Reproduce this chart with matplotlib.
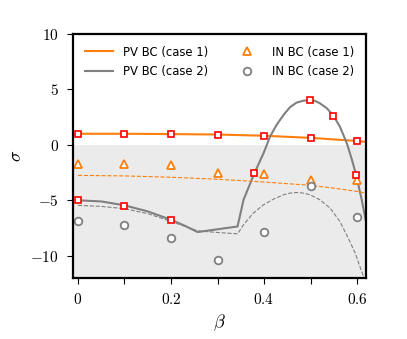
import numpy as np
import matplotlib
matplotlib.use('Agg')
import matplotlib.pyplot as plt

plt.rcParams['mathtext.fontset'] = 'cm'

# PV BC (case 1) - orange solid / dashed
pv1_x = [0.0, 0.1, 0.2, 0.3, 0.4, 0.5, 0.6, 0.62]
pv1_y = [1.0, 1.0, 0.97, 0.93, 0.82, 0.63, 0.35, 0.27]
pv1d_x = [0.0, 0.1, 0.2, 0.3, 0.4, 0.5, 0.55, 0.6, 0.62]
pv1d_y = [-2.75, -2.8, -2.92, -3.1, -3.35, -3.65, -3.9, -4.2, -4.35]

# PV BC (case 2) - gray solid / dashed
pv2_x = [0.0, 0.05, 0.1, 0.15, 0.2, 0.23, 0.257, 0.343, 0.356, 0.379, 0.399, 0.413,
         0.427, 0.442, 0.456, 0.47, 0.485, 0.499, 0.51, 0.52, 0.535, 0.549, 0.563,
         0.578, 0.589, 0.598, 0.61, 0.62]
pv2_y = [-5.0, -5.1, -5.45, -6.0, -6.75, -7.3, -7.86, -7.36, -4.95, -2.58, -0.75, 0.75,
         1.8, 2.7, 3.4, 3.81, 3.98, 4.03, 3.95, 3.75, 3.3, 2.64, 1.65,
         0.15, -1.35, -2.7, -4.95, -7.1]
pv2d_x = [0.0, 0.05, 0.1, 0.15, 0.2, 0.257, 0.3, 0.343, 0.356, 0.377, 0.399, 0.42,
          0.442, 0.456, 0.47, 0.485, 0.499, 0.52, 0.542, 0.563, 0.581, 0.596, 0.606,
          0.615]
pv2d_y = [-5.45, -5.55, -5.75, -6.2, -6.9, -7.75, -7.9, -8.02, -7.2, -6.15, -5.4, -4.9,
          -4.5, -4.35, -4.3, -4.35, -4.5, -4.95, -5.7, -6.9, -8.4, -9.75, -10.96,
          -12.0]

# IN BC markers
in_x = [0.0, 0.1, 0.2, 0.3, 0.4, 0.5, 0.6]
in1_y = [-1.7, -1.7, -1.8, -2.5, -2.6, -3.15, -3.2]
in2_y = [-6.9, -7.25, -8.4, -10.4, -7.85, -3.7, -6.5]

# red squares
sq_x = [0.0, 0.1, 0.2, 0.3, 0.4, 0.5, 0.6, 0.0, 0.1, 0.2, 0.379, 0.499, 0.549, 0.598]
sq_y = [1.0, 1.0, 0.95, 0.93, 0.82, 0.63, 0.35, -5.0, -5.5, -6.8, -2.58, 4.03, 2.64, -2.7]

orange = '#ff7f0e'
gray = '#808080'

fig = plt.figure(figsize=(4.07, 3.39), dpi=100)
ax = fig.add_axes([0.179, 0.18, 0.72, 0.72])

ax.axhspan(-12, 0, color='#ebebeb', zorder=0, lw=0)

ax.plot(pv1_x, pv1_y, color=orange, lw=1.5, label='PV BC (case 1)')
ax.plot(pv2_x, pv2_y, color=gray, lw=1.5, label='PV BC (case 2)')
ax.plot(pv1d_x, pv1d_y, color=orange, lw=0.8, ls='--')
ax.plot(pv2d_x, pv2d_y, color=gray, lw=0.8, ls='--')
ax.plot(in_x, in1_y, '^', color=orange, mfc='white', mec=orange, mew=1.3, ms=5.5,
        ls='none', label='IN BC (case 1)')
ax.plot(in_x, in2_y, 'o', color=gray, mfc='white', mec=gray, mew=1.3, ms=5.5,
        ls='none', label='IN BC (case 2)')
ax.plot(sq_x, sq_y, 's', mfc='white', mec='red', mew=1.2, ms=4.5, ls='none', zorder=5)

ax.set_xlim(-0.011, 0.619)
ax.set_ylim(-12, 10)
ax.set_xticks([0, 0.1, 0.2, 0.3, 0.4, 0.5, 0.6])
ax.set_xticklabels([r'$0$', '', r'$0.2$', '', r'$0.4$', '', r'$0.6$'], fontsize=11)
ax.set_yticks([-10, -5, 0, 5, 10])
ax.set_yticklabels([r'$-10$', r'$-5$', r'$0$', r'$5$', r'$10$'], fontsize=11)
ax.tick_params(direction='out', length=4, width=0.8, pad=6)
for s in ax.spines.values():
    s.set_linewidth(1.6)

ax.set_xlabel(r'$\beta$', fontsize=13)
ax.set_ylabel(r'$\sigma$', fontsize=13)

ax.legend(ncol=2, loc='upper left', frameon=False, fontsize=8.4,
          handlelength=2.4, handletextpad=0.86, columnspacing=2.2,
          labelspacing=0.55, borderaxespad=0.6)

fig.savefig('out.png', dpi=100)
